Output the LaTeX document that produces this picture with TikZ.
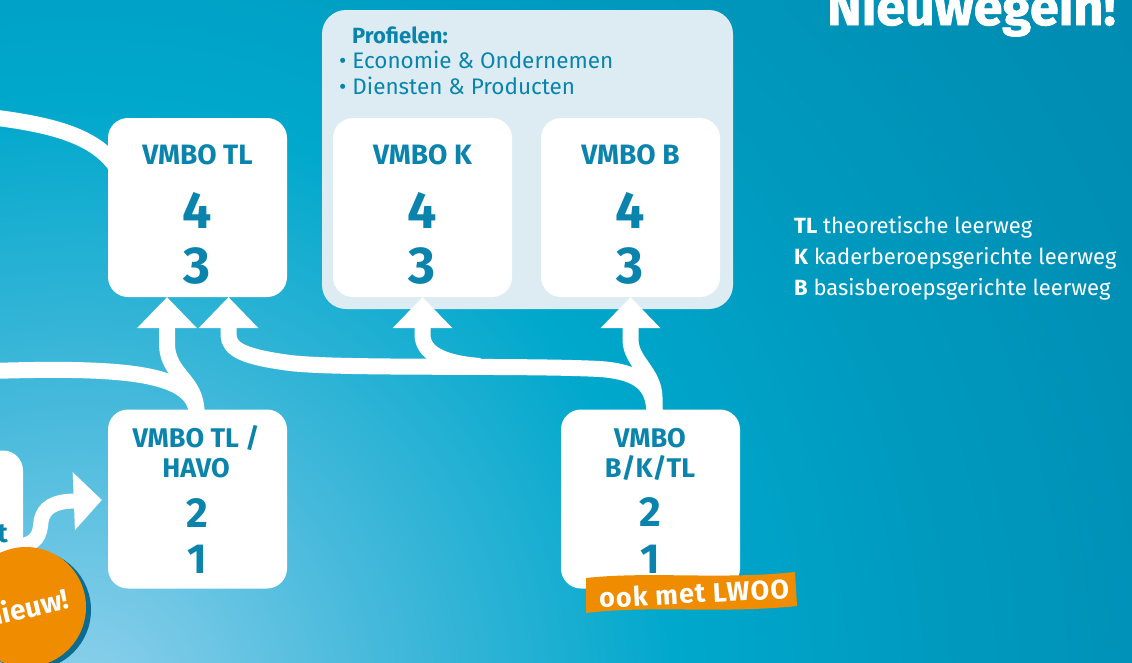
\documentclass[tikz,border=0pt]{standalone}
\usepackage{fontspec}
\setmainfont{Fira Sans}
\usetikzlibrary{arrows.meta}
\definecolor{tealtxt}{HTML}{0A84AD}
\definecolor{panelc}{HTML}{DCECF2}
\definecolor{orangec}{HTML}{F08C00}
\definecolor{shadowc}{HTML}{0B6C90}
\definecolor{gA}{HTML}{8FD1EC}
\definecolor{gB}{HTML}{45B9DB}
\definecolor{gC}{HTML}{00A8CC}
\definecolor{gD}{HTML}{009BC0}
\definecolor{gE}{HTML}{008EB4}
\definecolor{gF}{HTML}{0087AD}
\pgfdeclareradialshading{bgglow}{\pgfpoint{0bp}{0bp}}{color(0bp)=(gA); color(5.8bp)=(gB); color(11.5bp)=(gC); color(16bp)=(gD); color(22bp)=(gE); color(30bp)=(gF); color(50bp)=(gF)}
\newcommand\fsz[1]{\fontsize{#1}{#1}\selectfont}
\begin{document}
\begin{tikzpicture}[x=1pt,y=-1pt,
  box/.style={fill=white, rounded corners=20pt, minimum width=179pt, minimum height=179pt, inner sep=0pt, draw=none},
  panel/.style={fill=panelc, rounded corners=24pt, minimum width=411pt, minimum height=299pt, inner sep=0pt, draw=none},
  ttl/.style={text=tealtxt, font=\bfseries\fsz{28}, anchor=base, inner sep=0pt},
  ttlb/.style={text=tealtxt, font=\bfseries\fsz{27}, anchor=base, inner sep=0pt},
  bignum/.style={text=tealtxt, font=\bfseries\fsz{52}, anchor=base, inner sep=0pt},
  smallnum/.style={text=tealtxt, font=\bfseries\fsz{42}, anchor=base, inner sep=0pt},
  legend/.style={text=white, font=\fsz{22}, anchor=base west, inner sep=0pt},
  proftxt/.style={text=tealtxt, font=\fsz{22.5}, anchor=base west, inner sep=0pt},
  stem/.style={draw=white, line width=16pt},
  flow/.style={draw=white, line width=16pt, -{Triangle[width=60pt,length=31pt,line width=0pt]}},
]
\useasboundingbox (0,0) rectangle (1132,662);
\clip (0,0) rectangle (1132,662);
% background
\shade[shading=bgglow] (80,700) circle[radius=1300pt];

% profile panel
\node[panel] (prof) at (527.5,159.5) {};
\node[proftxt, font=\bfseries\fsz{22}] (profT) at (352,43) {Profielen:};
\node[proftxt] (prof1) at (339,68) {• Economie \& Ondernemen};
\node[proftxt] (prof2) at (339,94) {• Diensten \& Producten};

% boxes
\node[box] (tl) at (197.5,207.5) {};
\node[box] (kk) at (422.5,207.5) {};
\node[box] (bb) at (630.5,207.5) {};
\node[box] (havo) at (197.5,499) {};
\node[box] (bkt) at (650.5,499) {};
\node[box, minimum width=180pt] (prev) at (-67,540) {};

% box texts
\node[ttl] (tlT) at (197.5,164) {VMBO TL};
\node[bignum] (tl4) at (197.5,228) {4};
\node[bignum] (tl3) at (197.5,283) {3};
\node[ttl] (kkT) at (422.5,164) {VMBO K};
\node[bignum] (kk4) at (422.5,228) {4};
\node[bignum] (kk3) at (422.5,283) {3};
\node[ttl] (bbT) at (630.5,164) {VMBO B};
\node[bignum] (bb4) at (630.5,228) {4};
\node[bignum] (bb3) at (630.5,283) {3};
\node[ttlb] (havoT1) at (196,447) {VMBO TL /};
\node[ttlb] (havoT2) at (196,477) {HAVO};
\node[smallnum] (havo2) at (197.5,527) {2};
\node[smallnum] (havo1) at (197.5,573) {1};
\node[ttlb] (bktT1) at (650,447) {VMBO};
\node[ttlb] (bktT2) at (650,477) {B/K/TL};
\node[smallnum] (bkt2) at (650.5,526) {2};
\node[smallnum] (bkt1) at (650.5,573) {1};
\node[ttlb, anchor=base east] (prevT) at (8,542) {t};

% connectors
\coordinate (inA) at (-10,117);
\coordinate (inB) at (-10,371);
\coordinate (jK) at (480,366);
\coordinate (cStart) at (14,546);
\draw[stem] (inA) .. controls (55,125) and (100,137) .. ([shift={(12,-35)}]tl.west);
\draw[stem] (inB) .. controls (120,367) and (192,372) .. ([shift={(-1,2)}]havo.north);
\draw[flow] ([shift={(-1,2)}]havo.north) .. controls (196,380) and (168,375) .. (167,345) -- ([shift={(-30.5,0)}]tl.south);
\draw[flow] ([shift={(4,2)}]bkt.north) .. controls (653,385) and (640,372) .. (600,369)
   .. controls (520,365) and (340,369) .. (290,363) .. controls (245,357) and (229,350) .. (228.5,335) -- ([shift={(31,0)}]tl.south);
\draw[flow] (jK) .. controls (440,363) and (423,352) .. (422.5,335) -- (kk.south);
\draw[flow] ([shift={(4,2)}]bkt.north) -- ++(0,-14) .. controls (654,372) and (631,362) .. (630.5,340) -- (bb.south);
\draw[draw=white, line width=15pt, -{Triangle[width=58pt,length=28pt,line width=0pt]}]
   (cStart) .. controls (38,546) and (40,533) .. (41,522) .. controls (43,507) and (55,501) .. (76,501) -- ([shift={(-6,1)}]havo.west);

% LWOO banner
\fill[orangec] (586,578) .. controls (650,571) and (720,580) .. (795,572) -- (797,606)
   .. controls (720,614) and (650,605) .. (586,613) -- cycle;
\node[text=white, font=\bfseries\fsz{27}\addfontfeature{LetterSpace=4}, rotate=3, inner sep=0pt] (lwoo) at (694,593) {ook met LWOO};

% Nieuw! badge
\fill[shadowc] (31,610) circle[radius=60pt];
\node[circle, fill=orangec, minimum size=120pt, inner sep=0pt, text=white, font=\bfseries\fsz{28}, rotate=13] (nieuw) at (26,607) {Nieuw!};

% title and legend
\node[text=white, font=\bfseries\fsz{52}\addfontfeature{FakeBold=1.5}, anchor=base east, inner sep=0pt] (title) at (1116,25) {Nieuwegein!};
\node[legend] (leg1) at (794,233) {\textbf{TL} theoretische leerweg};
\node[legend] (leg2) at (794,264) {\textbf{K} kaderberoepsgerichte leerweg};
\node[legend] (leg3) at (794,295) {\textbf{B} basisberoepsgerichte leerweg};
\end{tikzpicture}
\end{document}
